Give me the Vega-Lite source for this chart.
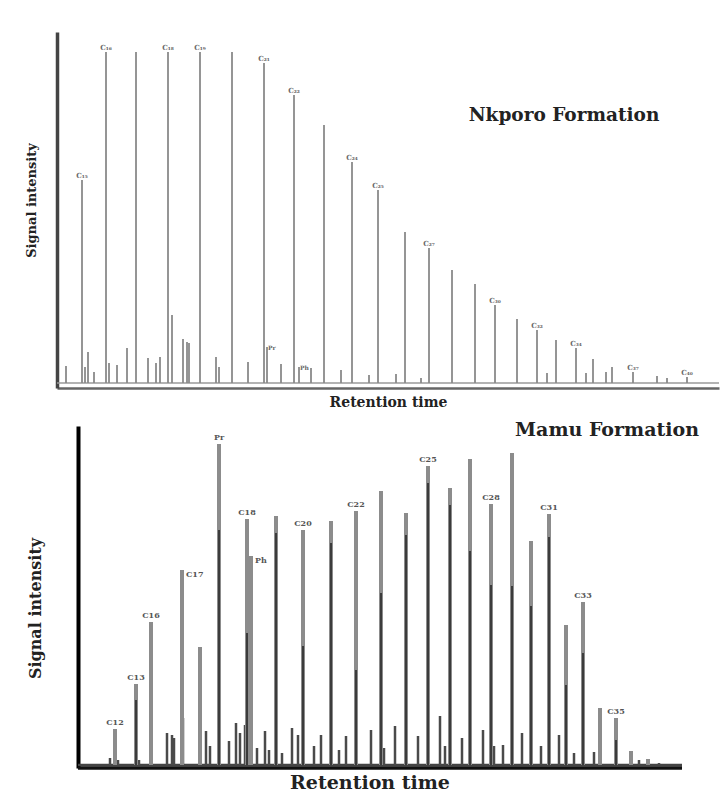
{
  "$schema": "https://vega.github.io/schema/vega-lite/v6.json",
  "background": "white",
  "padding": {"left": 25, "top": 32, "right": 0, "bottom": 0},
  "autosize": {"type": "pad"},
  "spacing": 12,
  "config": {
    "view": {"stroke": null},
    "font": "DejaVu Serif",
    "axis": {"grid": false, "ticks": false, "labels": false, "titleFont": "DejaVu Serif", "titleFontWeight": "bold", "titleColor": "#222"}
  },
  "datasets": {
    "nkporo": [
      {"t": 25, "i": 208, "label": "C₁₅"},
      {"t": 49, "i": 336, "label": "C₁₆"},
      {"t": 79, "i": 336},
      {"t": 111, "i": 336, "label": "C₁₈"},
      {"t": 143, "i": 336, "label": "C₁₉"},
      {"t": 175, "i": 336},
      {"t": 207, "i": 325, "label": "C₂₁"},
      {"t": 237, "i": 293, "label": "C₂₂"},
      {"t": 267, "i": 263},
      {"t": 295, "i": 226, "label": "C₂₄"},
      {"t": 321, "i": 198, "label": "C₂₅"},
      {"t": 348, "i": 156},
      {"t": 372, "i": 140, "label": "C₂₇"},
      {"t": 395, "i": 118},
      {"t": 418, "i": 104},
      {"t": 438, "i": 83, "label": "C₃₀"},
      {"t": 460, "i": 69},
      {"t": 480, "i": 58, "label": "C₃₂"},
      {"t": 499, "i": 48},
      {"t": 519, "i": 40, "label": "C₃₄"},
      {"t": 536, "i": 29},
      {"t": 555, "i": 21},
      {"t": 576, "i": 16, "label": "C₃₇"},
      {"t": 600, "i": 12},
      {"t": 630, "i": 11, "label": "C₄₀"},
      {"t": 9, "i": 22}, {"t": 28, "i": 21}, {"t": 31, "i": 36}, {"t": 37, "i": 16},
      {"t": 52, "i": 25}, {"t": 60, "i": 23}, {"t": 70, "i": 40}, {"t": 91, "i": 30},
      {"t": 99, "i": 25}, {"t": 103, "i": 31}, {"t": 115, "i": 73}, {"t": 126, "i": 49},
      {"t": 130, "i": 46}, {"t": 132, "i": 45}, {"t": 159, "i": 31}, {"t": 162, "i": 21},
      {"t": 191, "i": 26}, {"t": 210, "i": 41, "label": "Pr"}, {"t": 224, "i": 24},
      {"t": 242, "i": 21, "label": "Ph"}, {"t": 254, "i": 20}, {"t": 284, "i": 18},
      {"t": 312, "i": 13}, {"t": 339, "i": 14}, {"t": 364, "i": 10}, {"t": 490, "i": 15},
      {"t": 529, "i": 15}, {"t": 549, "i": 16}, {"t": 610, "i": 10}
    ],
    "mamu": [
      {"t": 37, "i": 39, "label": "C12"},
      {"t": 58, "i": 84, "dark": 68, "label": "C13"},
      {"t": 73, "i": 146, "label": "C16"},
      {"t": 104, "i": 198, "label": "C17"},
      {"t": 122, "i": 121},
      {"t": 141, "i": 324, "dark": 238, "label": "Pr"},
      {"t": 169, "i": 249, "dark": 135, "label": "C18"},
      {"t": 173, "i": 212, "label": "Ph"},
      {"t": 198, "i": 252, "dark": 235},
      {"t": 225, "i": 238, "dark": 122, "label": "C20"},
      {"t": 253, "i": 247, "dark": 225},
      {"t": 278, "i": 257, "dark": 98, "label": "C22"},
      {"t": 303, "i": 277, "dark": 175},
      {"t": 328, "i": 255, "dark": 233},
      {"t": 350, "i": 302, "dark": 285, "label": "C25"},
      {"t": 372, "i": 280, "dark": 263},
      {"t": 392, "i": 309, "dark": 217},
      {"t": 413, "i": 264, "dark": 183, "label": "C28"},
      {"t": 434, "i": 315, "dark": 182},
      {"t": 453, "i": 227, "dark": 162},
      {"t": 471, "i": 254, "dark": 231, "label": "C31"},
      {"t": 488, "i": 143, "dark": 83},
      {"t": 505, "i": 166, "dark": 115, "label": "C33"},
      {"t": 522, "i": 60},
      {"t": 538, "i": 50, "dark": 28, "label": "C35"},
      {"t": 553, "i": 17},
      {"t": 570, "i": 9}
    ],
    "mamuMinor": [
      {"t": 32, "i": 10}, {"t": 40, "i": 8}, {"t": 61, "i": 8}, {"t": 89, "i": 35},
      {"t": 94, "i": 33}, {"t": 96, "i": 30}, {"t": 105, "i": 50}, {"t": 128, "i": 37},
      {"t": 132, "i": 22}, {"t": 151, "i": 27}, {"t": 158, "i": 45}, {"t": 162, "i": 35},
      {"t": 167, "i": 43}, {"t": 179, "i": 20}, {"t": 187, "i": 37}, {"t": 191, "i": 18},
      {"t": 204, "i": 15}, {"t": 214, "i": 40}, {"t": 220, "i": 33}, {"t": 236, "i": 22},
      {"t": 243, "i": 33}, {"t": 261, "i": 18}, {"t": 268, "i": 32}, {"t": 293, "i": 38},
      {"t": 306, "i": 20}, {"t": 317, "i": 42}, {"t": 340, "i": 32}, {"t": 362, "i": 52},
      {"t": 367, "i": 22}, {"t": 384, "i": 30}, {"t": 405, "i": 38}, {"t": 416, "i": 22},
      {"t": 425, "i": 23}, {"t": 444, "i": 35}, {"t": 463, "i": 22}, {"t": 481, "i": 33},
      {"t": 496, "i": 15}, {"t": 516, "i": 16}, {"t": 561, "i": 8}, {"t": 581, "i": 5}
    ]
  },
  "vconcat": [
    {
      "width": 662,
      "height": 356,
      "layer": [
        {
          "data": {"values": [{}]},
          "mark": {"type": "rule", "color": "#9a9a9a", "strokeWidth": 1.5},
          "encoding": {"y": {"datum": 5, "type": "quantitative", "scale": {"domain": [0, 356], "nice": false}}}
        },
        {
          "data": {"name": "nkporo"},
          "mark": {"type": "rule", "color": "#8a8a8a", "strokeWidth": 1.8},
          "encoding": {
            "x": {"field": "t", "type": "quantitative", "scale": {"domain": [0, 662], "nice": false},
                  "axis": {"title": "Retention time", "domainColor": "#666", "domainWidth": 2.5, "titleFontSize": 14, "titlePadding": 7}},
            "y": {"field": "i", "type": "quantitative", "scale": {"domain": [0, 356], "nice": false},
                  "axis": {"title": "Signal intensity", "domainColor": "#444", "domainWidth": 3.5, "titleFontSize": 13, "titlePadding": 19, "titleY": 168}},
            "y2": {"datum": 5}
          }
        },
        {
          "data": {"name": "nkporo"},
          "transform": [{"filter": "isValid(datum.label) && datum.label !== 'Pr' && datum.label !== 'Ph'"}],
          "mark": {"type": "text", "baseline": "bottom", "dy": -1, "fontSize": 7, "fontWeight": "bold", "color": "#666"},
          "encoding": {
            "x": {"field": "t", "type": "quantitative", "scale": {"domain": [0, 662], "nice": false}},
            "y": {"field": "i", "type": "quantitative", "scale": {"domain": [0, 356], "nice": false}},
            "text": {"field": "label"}
          }
        },
        {
          "data": {"name": "nkporo"},
          "transform": [{"filter": "datum.label === 'Pr' || datum.label === 'Ph'"}],
          "mark": {"type": "text", "align": "left", "baseline": "middle", "dx": 1, "dy": 1, "fontSize": 6, "fontWeight": "bold", "color": "#666"},
          "encoding": {
            "x": {"field": "t", "type": "quantitative", "scale": {"domain": [0, 662], "nice": false}},
            "y": {"field": "i", "type": "quantitative", "scale": {"domain": [0, 356], "nice": false}},
            "text": {"field": "label"}
          }
        },
        {
          "data": {"values": [{}]},
          "mark": {"type": "text", "fontSize": 18.5, "fontWeight": "bold", "color": "#222", "font": "DejaVu Serif"},
          "encoding": {
            "x": {"datum": 507, "type": "quantitative"},
            "y": {"datum": 273, "type": "quantitative"},
            "text": {"value": "Nkporo Formation"}
          }
        }
      ]
    },
    {
      "width": 625,
      "height": 342,
      "layer": [
        {
          "data": {"values": [{}]},
          "mark": {"type": "rule", "color": "#444", "strokeWidth": 2.5},
          "encoding": {
            "x": {"datum": 0, "type": "quantitative", "scale": {"domain": [-21, 604], "nice": false, "zero": false}},
            "x2": {"datum": 604},
            "y": {"datum": 3, "type": "quantitative", "scale": {"domain": [0, 342], "nice": false}}
          }
        },
        {
          "data": {"values": [{}]},
          "mark": {"type": "rule", "color": "#111", "strokeWidth": 3.5},
          "encoding": {
            "x": {"datum": 0, "type": "quantitative", "scale": {"domain": [-21, 604], "nice": false, "zero": false}},
            "x2": {"datum": 604},
            "y": {"datum": 0, "type": "quantitative", "scale": {"domain": [0, 342], "nice": false}}
          }
        },
        {
          "data": {"name": "mamuMinor"},
          "mark": {"type": "rule", "color": "#4a4a4a", "strokeWidth": 2.5},
          "encoding": {
            "x": {"field": "t", "type": "quantitative", "scale": {"domain": [-21, 604], "nice": false, "zero": false}},
            "y": {"field": "i", "type": "quantitative", "scale": {"domain": [0, 342], "nice": false}},
            "y2": {"datum": 3}
          }
        },
        {
          "data": {"name": "mamu"},
          "mark": {"type": "rule", "color": "#8c8c8c", "strokeWidth": 4},
          "encoding": {
            "x": {"field": "t", "type": "quantitative", "scale": {"domain": [-21, 604], "nice": false, "zero": false},
                  "axis": {"title": "Retention time", "domain": false, "titleFontSize": 19, "titlePadding": 5}},
            "y": {"field": "i", "type": "quantitative", "scale": {"domain": [0, 342], "nice": false},
                  "axis": {"title": "Signal intensity", "domainColor": "#000", "domainWidth": 4, "offset": -21, "titleFontSize": 16, "titlePadding": 35, "titleY": 182}},
            "y2": {"datum": 3}
          }
        },
        {
          "data": {"name": "mamu"},
          "transform": [{"filter": "isValid(datum.dark)"}],
          "mark": {"type": "rule", "color": "#333", "strokeWidth": 1.8},
          "encoding": {
            "x": {"field": "t", "type": "quantitative", "scale": {"domain": [-21, 604], "nice": false, "zero": false}},
            "y": {"field": "dark", "type": "quantitative", "scale": {"domain": [0, 342], "nice": false}},
            "y2": {"datum": 3}
          }
        },
        {
          "data": {"name": "mamu"},
          "transform": [{"filter": "isValid(datum.label) && datum.label !== 'C17' && datum.label !== 'Ph'"}],
          "mark": {"type": "text", "baseline": "bottom", "dy": -2, "fontSize": 8, "fontWeight": "bold", "color": "#555"},
          "encoding": {
            "x": {"field": "t", "type": "quantitative", "scale": {"domain": [-21, 604], "nice": false, "zero": false}},
            "y": {"field": "i", "type": "quantitative", "scale": {"domain": [0, 342], "nice": false}},
            "text": {"field": "label"}
          }
        },
        {
          "data": {"name": "mamu"},
          "transform": [{"filter": "datum.label === 'C17' || datum.label === 'Ph'"}],
          "mark": {"type": "text", "align": "left", "baseline": "middle", "dx": 4, "dy": 5, "fontSize": 8, "fontWeight": "bold", "color": "#555"},
          "encoding": {
            "x": {"field": "t", "type": "quantitative", "scale": {"domain": [-21, 604], "nice": false, "zero": false}},
            "y": {"field": "i", "type": "quantitative", "scale": {"domain": [0, 342], "nice": false}},
            "text": {"field": "label"}
          }
        },
        {
          "data": {"values": [{}]},
          "mark": {"type": "text", "fontSize": 19, "fontWeight": "bold", "color": "#222", "font": "DejaVu Serif"},
          "encoding": {
            "x": {"datum": 529, "type": "quantitative"},
            "y": {"datum": 338, "type": "quantitative"},
            "text": {"value": "Mamu Formation"}
          }
        }
      ]
    }
  ]
}
